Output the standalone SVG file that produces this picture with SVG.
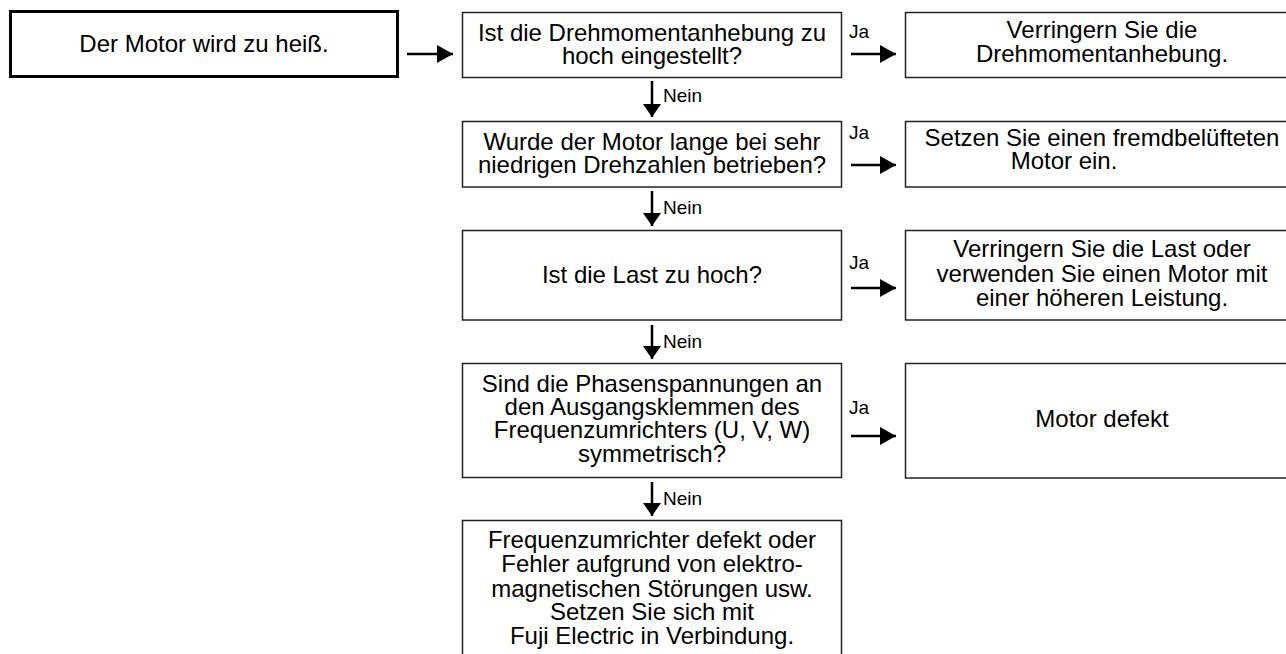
<svg xmlns="http://www.w3.org/2000/svg" width="1286" height="654" viewBox="0 0 1286 654">
<style>
.box{fill:#fff;stroke:#222;stroke-width:1.5}
.start{fill:#fff;stroke:#000;stroke-width:3}
.t{font-family:"Liberation Sans",Arial,sans-serif;font-size:24px;fill:#000;text-anchor:middle}
.lbl{font-family:"Liberation Sans",Arial,sans-serif;font-size:19px;fill:#000}
.ln{stroke:#000;stroke-width:2.5;fill:none}
</style>
<defs>
<marker id="ah" viewBox="0 0 16 18" refX="16" refY="9" markerWidth="16" markerHeight="18" markerUnits="userSpaceOnUse" orient="auto"><path d="M0,0 L16,9 L0,18 z" fill="#000"/></marker>
<marker id="av" viewBox="0 0 13 18" refX="13" refY="9" markerWidth="13" markerHeight="18" markerUnits="userSpaceOnUse" orient="auto"><path d="M0,0 L13,9 L0,18 z" fill="#000"/></marker>
</defs>
<rect width="1286" height="654" fill="#fff"/>
<g id="start">
<rect class="start" x="10.5" y="11.5" width="387" height="65"/>
<text class="t" x="204" y="52">Der Motor wird zu heiß.</text>
</g>
<g id="q1">
<rect class="box" x="462.5" y="12.5" width="379" height="65"/>
<text class="t" x="652" y="41">Ist die Drehmomentanhebung zu</text>
<text class="t" x="652" y="64">hoch eingestellt?</text>
</g>
<g id="a1">
<rect class="box" x="905.5" y="12.5" width="400" height="65"/>
<text class="t" x="1102" y="38">Verringern Sie die</text>
<text class="t" x="1102" y="62">Drehmomentanhebung.</text>
</g>
<g id="q2">
<rect class="box" x="462.5" y="121.5" width="379" height="65.5"/>
<text class="t" x="652" y="150">Wurde der Motor lange bei sehr</text>
<text class="t" x="652" y="173">niedrigen Drehzahlen betrieben?</text>
</g>
<g id="a2">
<rect class="box" x="905.5" y="121.5" width="400" height="65.5"/>
<text class="t" x="1102" y="146">Setzen Sie einen fremdbelüfteten</text>
<text class="t" x="1064" y="169">Motor ein.</text>
</g>
<g id="q3">
<rect class="box" x="462.5" y="230.5" width="379" height="89.5"/>
<text class="t" x="652" y="283">Ist die Last zu hoch?</text>
</g>
<g id="a3">
<rect class="box" x="905.5" y="230.5" width="400" height="89.5"/>
<text class="t" x="1102" y="257">Verringern Sie die Last oder</text>
<text class="t" x="1102" y="282">verwenden Sie einen Motor mit</text>
<text class="t" x="1102" y="306">einer höheren Leistung.</text>
</g>
<g id="q4">
<rect class="box" x="462.5" y="363.5" width="379" height="114"/>
<text class="t" x="652" y="392">Sind die Phasenspannungen an</text>
<text class="t" x="652" y="415">den Ausgangsklemmen des</text>
<text class="t" x="652" y="438">Frequenzumrichters (U, V, W)</text>
<text class="t" x="652" y="462">symmetrisch?</text>
</g>
<g id="a4">
<rect class="box" x="905.5" y="363.5" width="400" height="114.5"/>
<text class="t" x="1102" y="427">Motor defekt</text>
</g>
<g id="r5">
<rect class="box" x="462.5" y="520.5" width="379" height="160"/>
<text class="t" x="652" y="548">Frequenzumrichter defekt oder</text>
<text class="t" x="652" y="572">Fehler aufgrund von elektro-</text>
<text class="t" x="652" y="597">magnetischen Störungen usw.</text>
<text class="t" x="652" y="620">Setzen Sie sich mit</text>
<text class="t" x="652" y="644">Fuji Electric in Verbindung.</text>
</g>
<g id="connectors">
<line class="ln" x1="407" y1="54" x2="453" y2="54" marker-end="url(#ah)"/>
<line class="ln" x1="851" y1="54" x2="896" y2="54" marker-end="url(#ah)"/>
<line class="ln" x1="851" y1="165" x2="896" y2="165" marker-end="url(#ah)"/>
<line class="ln" x1="851" y1="288" x2="896" y2="288" marker-end="url(#ah)"/>
<line class="ln" x1="851" y1="436" x2="896" y2="436" marker-end="url(#ah)"/>
<line class="ln" x1="652" y1="81" x2="652" y2="117" marker-end="url(#av)"/>
<line class="ln" x1="652" y1="191" x2="652" y2="226" marker-end="url(#av)"/>
<line class="ln" x1="652" y1="325" x2="652" y2="359" marker-end="url(#av)"/>
<line class="ln" x1="652" y1="482" x2="652" y2="516" marker-end="url(#av)"/>
<text class="lbl" x="849" y="38">Ja</text>
<text class="lbl" x="849" y="139">Ja</text>
<text class="lbl" x="849" y="269">Ja</text>
<text class="lbl" x="849" y="414">Ja</text>
<text class="lbl" x="663" y="102">Nein</text>
<text class="lbl" x="663" y="214">Nein</text>
<text class="lbl" x="663" y="348">Nein</text>
<text class="lbl" x="663" y="505">Nein</text>
</g>
</svg>
